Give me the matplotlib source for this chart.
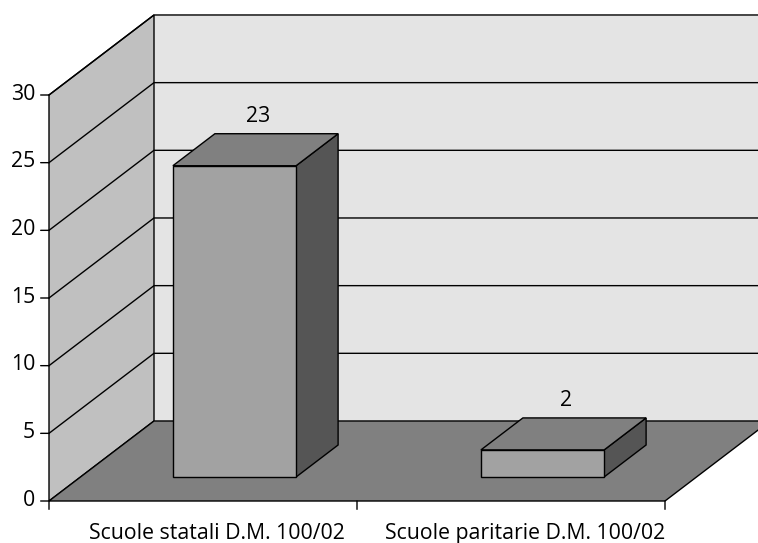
import matplotlib
matplotlib.use("Agg")
import matplotlib.pyplot as plt
from matplotlib.patches import Polygon

categories = ["Scuole statali D.M. 100/02", "Scuole paritarie D.M. 100/02"]
values = [23, 2]
y_ticks = [0, 5, 10, 15, 20, 25, 30]

plt.rcParams["font.family"] = ["Open Sans", "DejaVu Sans"]

W, H = 758, 543
fig = plt.figure(figsize=(W / 100, H / 100), dpi=100)
ax = fig.add_axes([49 / W, (H - 501) / H, 616 / W, 406 / H])
ax.set_xlim(0, len(categories))
ax.set_ylim(0, y_ticks[-1])
ax.axis("off")

# fake 3d: depth 0..1 shifts a point back and up
DEPTH_X = 105 / 308
DEPTH_Y = 80 / 13.53
LW = 1.0
FS = 15.3


def pt(x, y, d=0.0):
    return (x + d * DEPTH_X, y + d * DEPTH_Y)


def face(points, color, z=1):
    ax.add_patch(Polygon(points, closed=True, facecolor=color, edgecolor="black",
                         linewidth=LW, joinstyle="miter", clip_on=False, zorder=z))


x_max = len(categories)
y_max = y_ticks[-1]

# back wall, left wall, floor
ax.add_patch(Polygon([pt(0, 0, 1), pt(x_max, 0, 1), pt(x_max, y_max, 1), pt(0, y_max, 1)],
                     closed=True, facecolor="#e4e4e4", edgecolor="none", clip_on=False, zorder=1))
face([pt(0, 0), pt(0, 0, 1), pt(0, y_max, 1), pt(0, y_max)], "#c0c0c0", 2)
for t in y_ticks:
    if t == 0:
        continue
    ax.plot(*zip(pt(0, t), pt(0, t, 1), pt(x_max, t, 1)), color="black", lw=LW,
            clip_on=False, zorder=3, solid_joinstyle="miter")
face([pt(0, 0), pt(x_max, 0), pt(x_max, 0, 1), pt(0, 0, 1)], "#808080", 3)

# bars
bar_w = 0.4
d0, d1 = 0.3, 0.7
for i, v in enumerate(values):
    x0 = i + 0.5 - bar_w / 2
    x1 = i + 0.5 + bar_w / 2
    face([pt(x1, 0, d0), pt(x1, 0, d1), pt(x1, v, d1), pt(x1, v, d0)], "#555555", 5)
    face([pt(x0, v, d0), pt(x1, v, d0), pt(x1, v, d1), pt(x0, v, d1)], "#808080", 5)
    face([pt(x0, 0, d0), pt(x1, 0, d0), pt(x1, v, d0), pt(x0, v, d0)], "#a2a2a2", 6)
    ax.annotate(str(v), xy=pt(i + 0.5, v, d1), xytext=(-13.5, 12.5), textcoords="offset points",
                ha="center", va="center", fontsize=FS, color="black", annotation_clip=False)

# axis ticks drawn by hand, axes frame is off
for t in y_ticks:
    ax.annotate("", xy=(0, t), xytext=(-6, 0), textcoords="offset points", annotation_clip=False,
                arrowprops=dict(arrowstyle="-", lw=LW, color="black", shrinkA=0, shrinkB=0))
    ax.annotate(str(t), xy=(0, t), xytext=(-10, 0.5), textcoords="offset points", ha="right",
                va="center", fontsize=FS, annotation_clip=False)
for i in range(x_max + 1):
    ax.annotate("", xy=(i, 0), xytext=(0, -6), textcoords="offset points", annotation_clip=False,
                arrowprops=dict(arrowstyle="-", lw=LW, color="black", shrinkA=0, shrinkB=0))
for i, c in enumerate(categories):
    ax.annotate(c, xy=(i + 0.5, 0), xytext=(10, -15.5), textcoords="offset points", ha="center",
                va="top", fontsize=FS, annotation_clip=False)

fig.savefig("out.png", dpi=100)
